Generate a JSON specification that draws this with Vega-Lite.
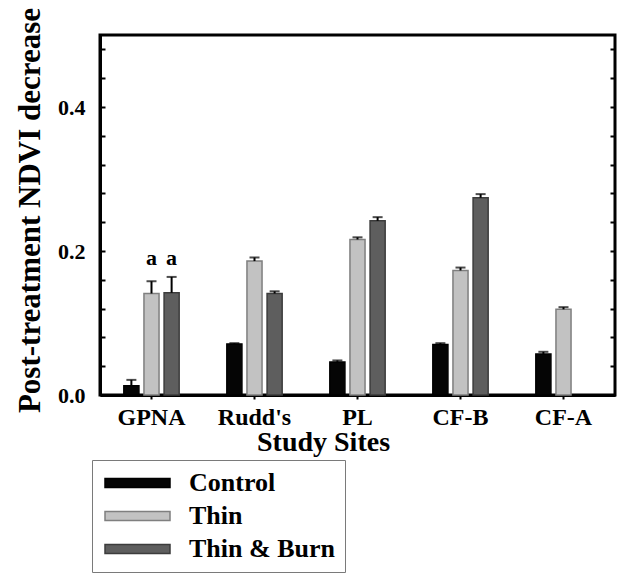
{
  "$schema": "https://vega.github.io/schema/vega-lite/v6.json",
  "width": 515,
  "height": 360,
  "autosize": "none",
  "padding": {"left": 100, "top": 35, "right": 9, "bottom": 182},
  "config": {
    "font": "Liberation Serif",
    "view": {"stroke": "black", "strokeWidth": 3},
    "axis": {"labelFont": "Liberation Serif", "labelFontWeight": "bold", "titleFont": "Liberation Serif", "titleFontWeight": "bold", "labelColor": "black", "titleColor": "black", "domainColor": "black", "tickColor": "black", "grid": false}
  },
  "data": {
    "values": [
      {"site": "GPNA", "treatment": "Control", "value": 0.013, "upper": 0.021},
      {"site": "GPNA", "treatment": "Thin", "value": 0.141, "upper": 0.158, "label": "a"},
      {"site": "GPNA", "treatment": "Thin & Burn", "value": 0.142, "upper": 0.164, "label": "a"},
      {"site": "Rudd's", "treatment": "Control", "value": 0.071, "upper": 0.072},
      {"site": "Rudd's", "treatment": "Thin", "value": 0.186, "upper": 0.191},
      {"site": "Rudd's", "treatment": "Thin & Burn", "value": 0.141, "upper": 0.144},
      {"site": "PL", "treatment": "Control", "value": 0.046, "upper": 0.048},
      {"site": "PL", "treatment": "Thin", "value": 0.216, "upper": 0.219},
      {"site": "PL", "treatment": "Thin & Burn", "value": 0.242, "upper": 0.247},
      {"site": "CF-B", "treatment": "Control", "value": 0.070, "upper": 0.072},
      {"site": "CF-B", "treatment": "Thin", "value": 0.173, "upper": 0.177},
      {"site": "CF-B", "treatment": "Thin & Burn", "value": 0.274, "upper": 0.279},
      {"site": "CF-A", "treatment": "Control", "value": 0.057, "upper": 0.060},
      {"site": "CF-A", "treatment": "Thin", "value": 0.119, "upper": 0.122}
    ]
  },
  "encoding": {
    "x": {
      "field": "site", "type": "nominal", "sort": null,
      "scale": {"paddingInner": 0.414, "paddingOuter": 0.207},
      "axis": {"title": "Study Sites", "labelAngle": 0, "labelFontSize": 24, "titleFontSize": 28, "domainWidth": 3, "tickSize": 4, "tickWidth": 2, "labelPadding": 6, "titleX": 223, "titleY": 55, "titleAlign": "center", "titleBaseline": "alphabetic"}
    },
    "xOffset": {
      "field": "treatment", "type": "nominal",
      "scale": {"domain": ["Control", "Thin", "Thin & Burn"], "paddingInner": 0.25, "paddingOuter": 0.125}
    }
  },
  "layer": [
    {
      "mark": {"type": "bar", "strokeWidth": 1.5},
      "encoding": {
        "y": {
          "field": "value", "type": "quantitative",
          "scale": {"domain": [0, 0.5], "nice": false, "zero": true},
          "axis": {
            "title": "Post-treatment NDVI decrease", "titleFontSize": 31, "labelFontSize": 22,
            "values": [0, 0.04, 0.08, 0.12, 0.16, 0.2, 0.24, 0.28, 0.32, 0.36, 0.4, 0.44, 0.48],
            "labelExpr": "datum.value == 0 || abs(datum.value - 0.2) < 0.001 || abs(datum.value - 0.4) < 0.001 ? format(datum.value, '.1f') : ''",
            "tickSize": -5, "tickWidth": 2, "labelPadding": 20, "domainWidth": 3,
            "titleX": -61, "titleY": 175, "titleAngle": -90, "titleAlign": "center", "titleBaseline": "alphabetic"
          }
        },
        "color": {
          "field": "treatment", "type": "nominal",
          "scale": {"domain": ["Control", "Thin", "Thin & Burn"], "range": ["#050505", "#c2c2c2", "#5e5e5e"]},
          "legend": {
            "title": null, "orient": "none", "legendX": -8, "legendY": 425,
            "direction": "vertical",
            "labelFontSize": 26, "labelFontWeight": "bold", "labelFont": "Liberation Serif", "labelColor": "black",
            "symbolType": "M-1,-0.45H5.5V0.45H-1Z", "symbolSize": 400, "symbolStrokeWidth": 1.5,
            "labelOffset": 61, "rowPadding": 7, "padding": 10,
            "strokeColor": "#7a7a7a", "labelLimit": 300
          }
        },
        "stroke": {
          "field": "treatment", "type": "nominal",
          "scale": {"domain": ["Control", "Thin", "Thin & Burn"], "range": ["#000000", "#7f7f7f", "#3c3c3c"]}
        }
      }
    },
    {
      "mark": {"type": "rule", "color": "black", "strokeWidth": 2},
      "encoding": {
        "y": {
          "field": "value", "type": "quantitative",
          "axis": {
            "orient": "right", "title": null, "labels": false, "domain": false,
            "values": [0, 0.04, 0.08, 0.12, 0.16, 0.2, 0.24, 0.28, 0.32, 0.36, 0.4, 0.44, 0.48],
            "tickSize": -5, "tickWidth": 2
          }
        },
        "y2": {"field": "upper"}
      }
    },
    {
      "mark": {"type": "tick", "color": "black", "thickness": 2, "size": 10},
      "encoding": {
        "y": {"field": "upper", "type": "quantitative", "axis": null}
      }
    },
    {
      "transform": [{"filter": "datum.label != null"}],
      "mark": {"type": "text", "font": "Liberation Serif", "fontWeight": "bold", "fontSize": 22, "color": "black", "baseline": "alphabetic"},
      "encoding": {
        "y": {"datum": 0.181, "type": "quantitative", "axis": null},
        "text": {"field": "label"}
      }
    }
  ],
  "resolve": {"axis": {"y": "independent"}}
}
